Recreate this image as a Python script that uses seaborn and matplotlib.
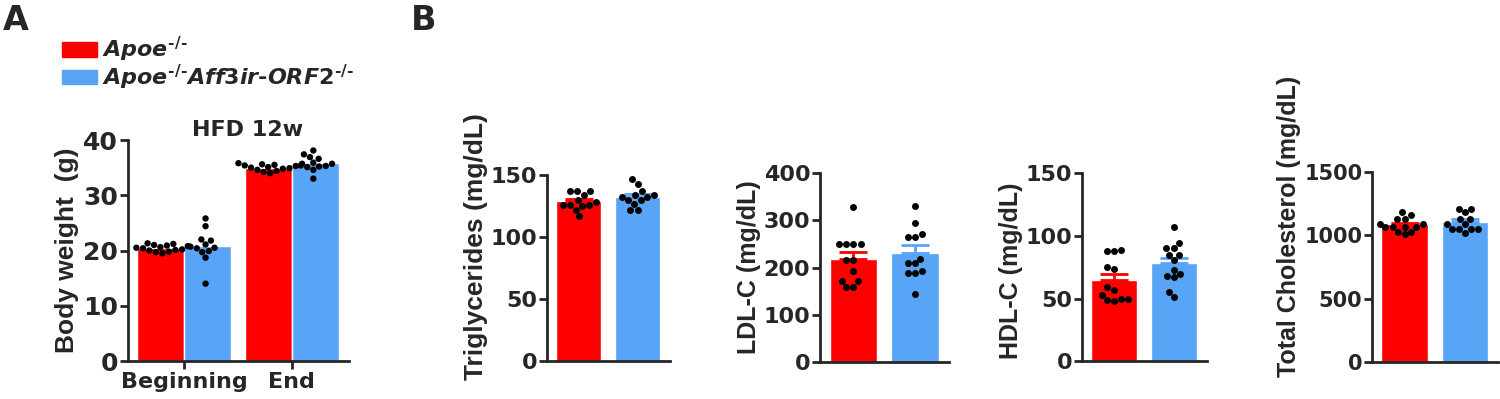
import numpy as np
import pandas as pd
import seaborn as sns
import matplotlib.pyplot as plt
from matplotlib.patches import Patch

sns.set_style("ticks")
plt.rcParams["font.family"] = ["DejaVu Sans"]
plt.rcParams["font.weight"] = "bold"
plt.rcParams["mathtext.fontset"] = "custom"
plt.rcParams["mathtext.it"] = "DejaVu Sans:italic:bold"
plt.rcParams["mathtext.rm"] = "DejaVu Sans:bold"
plt.rcParams["mathtext.bf"] = "DejaVu Sans:bold"

genotypes = ["Apoe", "DKO"]
colors = ["#FF0000", "#58A4F6"]
legend_labels = [r"$\mathit{Apoe}^{\text{-/-}}$",
                 r"$\mathit{Apoe}^{\text{-/-}}\mathit{Aff3ir}\text{-}\mathit{ORF2}^{\text{-/-}}$"]
timepoints = ["Beginning", "End"]

# panel A: body weight (g)
bw_begin_apoe = [19.5, 19.7, 19.8, 20.0, 20.1, 20.2, 20.4, 20.5, 20.6, 20.8, 20.9, 21.0, 21.2, 21.3]
bw_begin_dko = [25.8, 24.4, 22.0, 21.8, 21.1, 20.7, 20.5, 20.4, 19.9, 19.7, 18.7, 14.0]
bw_end_apoe = [34.0, 34.2, 34.4, 34.6, 34.8, 34.9, 35.0, 35.1, 35.3, 35.4, 35.5, 35.6, 35.7, 35.8]
bw_end_dko = [38.1, 37.4, 36.9, 36.6, 35.9, 35.7, 35.4, 35.3, 35.2, 35.1, 34.6, 33.0]

# panel B: plasma lipids (mg/dL)
tg_apoe = [137, 137, 137, 134, 130, 128, 126, 126, 126, 125, 122, 117]
tg_dko = [146.5, 143, 137, 134, 134, 132.5, 132.5, 130, 130, 127, 122, 122]
ldl_apoe = [328, 250, 250, 250, 250, 215, 215, 193, 171, 171, 159, 159]
ldl_dko = [331, 295, 270, 264, 264, 219, 209, 209, 193, 189, 189, 144]
hdl_apoe = [89, 88, 88, 75, 74, 59, 57, 53, 50, 50, 49, 48]
hdl_dko = [107.5, 94, 90, 90, 85, 85, 81, 73, 70, 68, 67, 55.5, 51.5]
tc_apoe = [1184, 1158, 1132, 1132, 1092, 1092, 1066, 1066, 1066, 1066, 1026, 1026, 1008]
tc_dko = [1211, 1211, 1184, 1132, 1132, 1092, 1092, 1053, 1053, 1053, 1053, 1018]

fig = plt.figure(figsize=(15, 3.99), dpi=100)


def style_axis(ax, tick_size):
    sns.despine(ax=ax)
    for s in ["left", "bottom"]:
        ax.spines[s].set_linewidth(2)
    ax.tick_params(axis="y", length=6, width=2, labelsize=tick_size, pad=1)
    for t in ax.get_yticklabels():
        t.set_fontweight("bold")


# ---- panel A
axA = fig.add_axes([0.0853, 0.0952, 0.1473, 0.5539])
rows = []
for tp, vals_a, vals_d in [("Beginning", bw_begin_apoe, bw_begin_dko), ("End", bw_end_apoe, bw_end_dko)]:
    rows += [(tp, "Apoe", v) for v in vals_a]
    rows += [(tp, "DKO", v) for v in vals_d]
dfA = pd.DataFrame(rows, columns=["time", "genotype", "weight"])
sns.barplot(data=dfA, x="time", y="weight", hue="genotype", order=timepoints, hue_order=genotypes,
            palette=colors, errorbar=None, width=0.87, saturation=1, legend=False, ax=axA, zorder=1)
sns.swarmplot(data=dfA, x="time", y="weight", hue="genotype", order=timepoints, hue_order=genotypes,
              palette=["black", "black"], dodge=True, size=4.6, legend=False, ax=axA, zorder=3)
axA.set_xlim(-0.52, 1.53)
axA.set_ylim(0, 40)
axA.set_yticks([0, 10, 20, 30, 40])
axA.set_xlabel("")
axA.set_ylabel("Body weight  (g)", fontsize=19, fontweight="bold", family="Liberation Sans", labelpad=3)
axA.set_title("HFD 12w", fontsize=16, fontweight="bold", x=0.54, pad=-2)
style_axis(axA, 18)
axA.tick_params(axis="x", length=6, width=2, labelsize=16, pad=2)
for t in axA.get_xticklabels():
    t.set_fontweight("bold")

fig.legend(handles=[Patch(color=c) for c in colors], labels=legend_labels,
           loc="upper left", bbox_to_anchor=(0.041, 0.912), frameon=False, fontsize=16,
           handlelength=1.6, handleheight=0.62, handletextpad=0.2, labelspacing=-0.08,
           borderpad=0, borderaxespad=0)


# ---- panel B
def lipid_panel(rect, vals_a, vals_d, ylabel, label_size, ymax, step, tick_size=16, label_y=0.5):
    ax = fig.add_axes(rect)
    df = pd.DataFrame({"genotype": ["Apoe"] * len(vals_a) + ["DKO"] * len(vals_d),
                       "value": list(vals_a) + list(vals_d)})
    sns.barplot(data=df, x="genotype", y="value", hue="genotype", order=genotypes, hue_order=genotypes,
                palette=colors, errorbar=None, width=0.77, saturation=1, legend=False, ax=ax, zorder=1)
    for i, (vals, c) in enumerate(zip([vals_a, vals_d], colors)):
        v = np.asarray(vals, dtype=float)
        sem = v.std(ddof=1) / np.sqrt(len(v))
        ax.errorbar(i, v.mean(), yerr=[[0], [sem]], color=c, capsize=10, capthick=2, lw=2, zorder=2)
    sns.swarmplot(data=df, x="genotype", y="value", order=genotypes, color="black", size=5,
                  ax=ax, zorder=3)
    ax.set_xlim(-0.54, 1.55)
    ax.set_ylim(0, ymax)
    ax.set_yticks(np.arange(0, ymax + 1, step))
    ax.set_xlabel("")
    ax.set_xticks([])
    ax.set_ylabel(ylabel, fontsize=label_size, fontweight="bold", family="Liberation Sans", labelpad=2)
    ax.yaxis.label.set_y(label_y)
    style_axis(ax, tick_size)
    return ax


lipid_panel([0.3647, 0.0952, 0.082, 0.4662], tg_apoe, tg_dko, "Triglycerides (mg/dL)", 19, 150, 50,
            label_y=0.616)
lipid_panel([0.5467, 0.0927, 0.086, 0.4737], ldl_apoe, ldl_dko, "LDL-C (mg/dL)", 18, 400, 100)
lipid_panel([0.7213, 0.0952, 0.0833, 0.4700], hdl_apoe, hdl_dko, "HDL-C (mg/dL)", 18, 150, 50,
            label_y=0.48)
lipid_panel([0.9147, 0.0927, 0.084, 0.4762], tc_apoe, tc_dko, "Total Cholesterol (mg/dL)", 18, 1500, 500,
            tick_size=15, label_y=0.716)

fig.text(0.002, 0.99, "A", fontsize=24, fontweight="bold", va="top", ha="left")
fig.text(0.274, 0.99, "B", fontsize=24, fontweight="bold", va="top", ha="left")

fig.savefig("out.png", dpi=100)
